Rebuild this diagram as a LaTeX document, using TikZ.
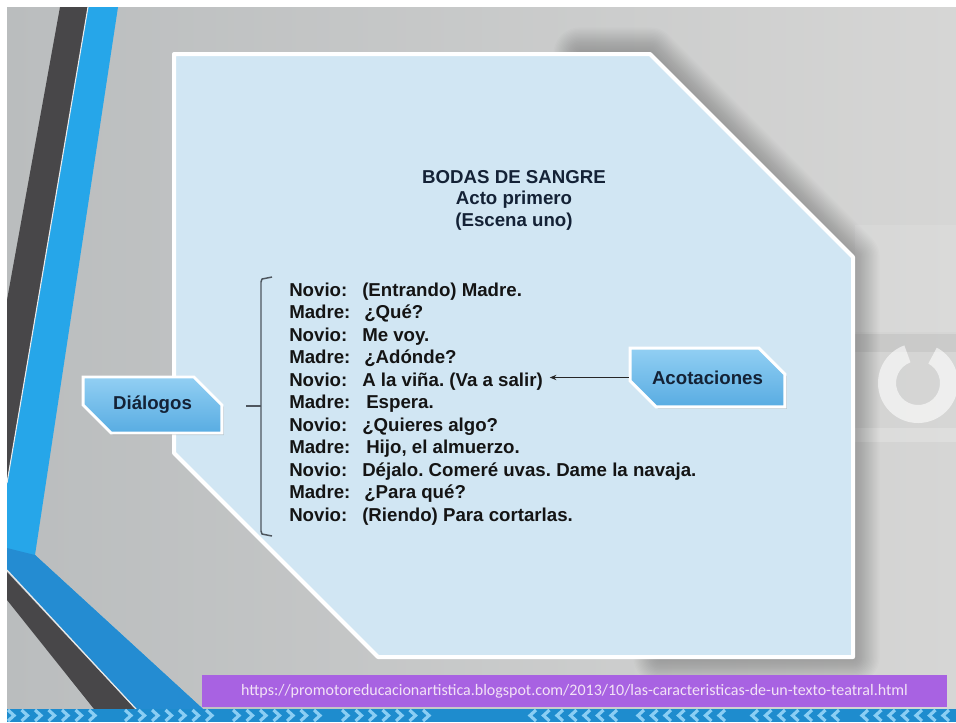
\documentclass[tikz,border=0pt]{standalone}
\usepackage{fontspec}
\setmainfont{Liberation Sans}
\newfontfamily\urlfont{Carlito}
\usetikzlibrary{arrows.meta, positioning, shapes.misc, shadows}
\frenchspacing

\definecolor{bgleft}{RGB}{186,189,190}
\definecolor{bgright}{RGB}{214,214,213}
\definecolor{panelblue}{RGB}{209,230,243}
\definecolor{boxtop}{RGB}{146,207,243}
\definecolor{boxbot}{RGB}{88,172,226}
\definecolor{navytext}{RGB}{20,34,54}
\definecolor{stripedark}{RGB}{72,71,73}
\definecolor{stripeblue}{RGB}{38,166,233}
\definecolor{bandblue}{RGB}{36,140,210}
\definecolor{urlpurple}{RGB}{168,98,226}
\definecolor{urltext}{RGB}{242,226,246}
\definecolor{bracketgray}{RGB}{78,86,94}
\definecolor{chevblue}{RGB}{30,140,206}
\definecolor{chevlight}{RGB}{138,206,244}

\tikzset{
  labelbox/.style={chamfered rectangle, chamfered rectangle corners={north east, south west},
    chamfered rectangle sep=11pt, draw=white, line width=2.2pt,
    top color=boxtop, bottom color=boxbot, text=navytext,
    font=\fontsize{14}{16}\selectfont\bfseries, minimum height=42pt,
    drop shadow={shadow xshift=1.5pt, shadow yshift=-1.5pt, opacity=0.3}},
  playtext/.style={anchor=base west, inner sep=0pt, text=black!92,
    font=\fontsize{14}{16}\selectfont\bfseries},
  chevron/.style={chevlight, line width=2.4pt},
}

\begin{document}
\begin{tikzpicture}[x=0.75pt, y=-0.75pt]
  \useasboundingbox (0,0) rectangle (956,722);
  \fill[white] (0,0) rectangle (956,722);

  % Background
  \shade[left color=bgleft, right color=bgright] (7,7) rectangle (956,709);
  \fill[white, opacity=0.1] (855,225) rectangle (956,332);
  \fill[black, opacity=0.05] (855,334) rectangle (956,352);
  \fill[white, opacity=0.2] (855,428) rectangle (956,442);
  \fill[white, opacity=0.6]
    (918,383) ++(62:30pt) arc[start angle=62, end angle=-250, radius=30pt]
    -- ++(-70:13.5pt) arc[start angle=-250, end angle=62, radius=16.5pt] -- cycle;

  % Left stripes
  \fill[stripedark] (60,7) -- (88,7) -- (7,483) -- (7,300) -- cycle;
  \fill[stripeblue] (88,7) -- (118,7) -- (35,555) -- (203,709) -- (137,709) -- (7,570) -- (7,483) -- cycle;
  \fill[bandblue] (35,555) -- (203,709) -- (137,709) -- (7,570) -- (7,548) -- cycle;
  \fill[stripedark] (7,572) -- (135,709) -- (94,709) -- (7,600) -- cycle;
  \draw[white!85!gray, line width=0.8pt] (88,7) -- (7,483);
  \draw[white!85!gray, line width=0.8pt] (7,570) -- (136,709);

  % Panel
  \foreach \w in {2,4,...,40}
    \draw[black, opacity=0.012, line width=\w pt, line join=round, line cap=round]
      (580,54) -- (650,54) -- (853,257) -- (853,657) -- (660,657);
  \draw[white, line width=3pt, fill=panelblue, line join=round]
    (174,54) -- (650,54) -- (853,257) -- (853,657) -- (378,657) -- (174,453) -- cycle;

  % Title
  \node[align=center, text=navytext, font=\fontsize{14}{16.1}\selectfont\bfseries]
    (title) at (514,200) {BODAS DE SANGRE\\Acto primero\\(Escena uno)};

  % Dialogue
  \foreach \who/\what/\tx [count=\i] in {
      Novio:/(Entrando) Madre./362, Madre:/¿Qué?/364, Novio:/Me voy./362,
      Madre:/¿Adónde?/364, Novio:/A la viña. (Va a salir)/362, Madre:/Espera./366,
      Novio:/¿Quieres algo?/362, Madre:/{Hijo, el almuerzo.}/366,
      Novio:/Déjalo. Comeré uvas. Dame la navaja./362, Madre:/¿Para qué?/364,
      Novio:/(Riendo) Para cortarlas./362} {
    \pgfmathsetmacro\yy{296+22.5*(\i-1)}
    \node[playtext] (spk\i) at (289,\yy) {\who};
    \node[playtext] (line\i) at (\tx,\yy) {\what};
  }

  % Bracket
  \draw[bracketgray, line width=1.1pt, line join=round]
    (272,277) -- (262,279) -- (261,282) -- (261,531) -- (262,534) -- (272,536);
  \draw[bracketgray, line width=1.1pt] (261,406) -- (246,406);

  % Labels
  \node[labelbox, minimum width=104pt] (dialogos) at (152.5,405) {Diálogos};
  \node[labelbox, minimum width=116pt, minimum height=44pt] (acotaciones) at (707.5,377.5) {Acotaciones};
  \draw[-{Stealth[length=5pt, width=4pt]}, black!85, line width=0.8pt, shorten >=5pt]
    (acotaciones.west) -- (line5.east |- acotaciones.west);

  % Source bar
  \fill[urlpurple] (202,675) rectangle (947,707);
  \node[text=urltext, font=\urlfont\fontsize{12}{14}\selectfont] (source) at (574.5,691)
    {https://promotoreducacionartistica.blogspot.com/2013/10/las-caracteristicas-de-un-texto-teatral.html};

  % Chevrons
  \fill[chevblue] (7,709) rectangle (956,722);
  \foreach \gx in {8,125,233,342}
    \foreach \k in {0,...,6}
      \draw[chevron] (\gx+13.5*\k,710) -- (\gx+13.5*\k+6,715.5) -- (\gx+13.5*\k,721);
  \foreach \gx in {530,638,752,862}
    \foreach \k in {0,...,6}
      \draw[chevron] (\gx+13.5*\k+6,710) -- (\gx+13.5*\k,715.5) -- (\gx+13.5*\k+6,721);
\end{tikzpicture}
\end{document}
